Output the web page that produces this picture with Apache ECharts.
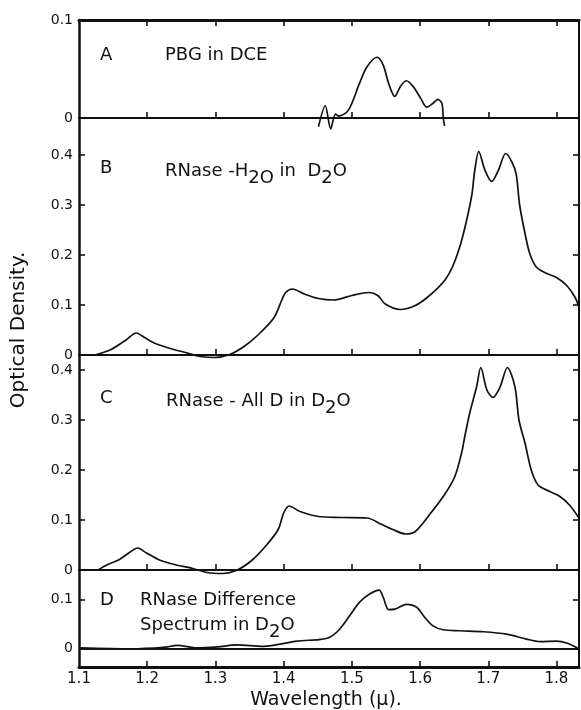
<!DOCTYPE html>
<html>
<head>
<meta charset="utf-8">
<script src="https://cdn.jsdelivr.net/npm/echarts@6/dist/echarts.min.js"></script>
<style>
html,body{margin:0;padding:0;background:#fff;}
#chart{width:581px;height:710px;}
</style>
</head>
<body>
<div id="chart"></div>
<script>
// ---- data ----
var xTicks = [1.2, 1.3, 1.4, 1.5, 1.6, 1.7, 1.8];
var xLabels = [1.1, 1.2, 1.3, 1.4, 1.5, 1.6, 1.7, 1.8];

var aTicks = [0, 0.1];
var bTicks = [0, 0.1, 0.2, 0.3, 0.4];
var cTicks = [0, 0.1, 0.2, 0.3, 0.4];
var dTicks = [0, 0.1];

// A: PBG in DCE
var aWl = [1.451, 1.461, 1.469, 1.476, 1.481, 1.495, 1.511, 1.522, 1.537, 1.546, 1.554, 1.563, 1.571, 1.580, 1.590, 1.601, 1.610, 1.619, 1.626, 1.632, 1.634, 1.636];
var aOD = [-0.009, 0.0125, -0.011, 0.004, 0.002, 0.008, 0.035, 0.052, 0.062, 0.054, 0.035, 0.022, 0.032, 0.038, 0.032, 0.020, 0.011, 0.015, 0.019, 0.015, 0, -0.008];

// B: RNase-H2O in D2O
var bWl = [1.123, 1.147, 1.169, 1.184, 1.196, 1.212, 1.234, 1.256, 1.278, 1.299, 1.321, 1.343, 1.364, 1.386, 1.397, 1.403, 1.413, 1.430, 1.451, 1.473, 1.500, 1.525, 1.538, 1.549, 1.571, 1.593, 1.614, 1.636, 1.648, 1.659, 1.668, 1.676, 1.680, 1.686, 1.695, 1.705, 1.715, 1.7255, 1.735, 1.741, 1.746, 1.754, 1.761, 1.771, 1.786, 1.800, 1.815, 1.827, 1.833];
var bOD = [0, 0.011, 0.030, 0.044, 0.035, 0.023, 0.013, 0.005, -0.003, -0.005, 0.001, 0.018, 0.042, 0.075, 0.109, 0.125, 0.132, 0.122, 0.113, 0.110, 0.119, 0.125, 0.119, 0.102, 0.091, 0.099, 0.119, 0.149, 0.178, 0.220, 0.268, 0.321, 0.367, 0.407, 0.370, 0.347, 0.370, 0.403, 0.385, 0.361, 0.300, 0.242, 0.202, 0.175, 0.163, 0.155, 0.139, 0.116, 0.096];

// C: RNase - All D in D2O
var cWl = [1.128, 1.142, 1.158, 1.174, 1.186, 1.199, 1.218, 1.240, 1.267, 1.288, 1.310, 1.332, 1.354, 1.375, 1.392, 1.400, 1.408, 1.424, 1.451, 1.484, 1.522, 1.544, 1.560, 1.579, 1.593, 1.614, 1.636, 1.651, 1.661, 1.666, 1.673, 1.683, 1.689, 1.698, 1.707, 1.717, 1.728, 1.739, 1.745, 1.754, 1.763, 1.773, 1.790, 1.805, 1.819, 1.833];
var cOD = [0, 0.011, 0.020, 0.035, 0.044, 0.034, 0.020, 0.011, 0.003, -0.005, -0.007, 0, 0.020, 0.050, 0.081, 0.114, 0.128, 0.117, 0.107, 0.105, 0.104, 0.091, 0.081, 0.072, 0.077, 0.111, 0.151, 0.187, 0.235, 0.270, 0.315, 0.367, 0.405, 0.360, 0.345, 0.365, 0.405, 0.367, 0.300, 0.253, 0.200, 0.170, 0.157, 0.147, 0.130, 0.104];

// D: RNase difference spectrum in D2O
var dWl = [1.102, 1.176, 1.224, 1.244, 1.273, 1.303, 1.332, 1.370, 1.420, 1.452, 1.467, 1.482, 1.497, 1.511, 1.526, 1.540, 1.546, 1.554, 1.563, 1.580, 1.595, 1.607, 1.619, 1.634, 1.658, 1.693, 1.727, 1.756, 1.776, 1.800, 1.815, 1.832];
var dOD = [0.001, -0.001, 0.002, 0.006, 0.001, 0.003, 0.007, 0.004, 0.015, 0.018, 0.022, 0.039, 0.067, 0.094, 0.111, 0.119, 0.104, 0.079, 0.080, 0.090, 0.084, 0.063, 0.046, 0.038, 0.036, 0.034, 0.029, 0.019, 0.014, 0.015, 0.011, 0];

function pairs(xs, ys) { return xs.map(function (x, i) { return [x, ys[i]]; }); }

var FONT = '"DejaVu Sans", sans-serif';
var INK = '#111';

var grids = [
  { left: 79, top: 20, width: 500, height: 98 },
  { left: 79, top: 118, width: 500, height: 237 },
  { left: 79, top: 355, width: 500, height: 215 },
  { left: 79, top: 570, width: 500, height: 97 }
];
var yRanges = [[0, 0.1], [0, 0.474], [0, 0.43], [-0.038, 0.16]];
var yTickSets = [aTicks, bTicks, cTicks, dTicks];

function fmtY(v) { return Math.abs(v) < 1e-9 ? '0' : v.toFixed(1); }

var xAxes = grids.map(function (g, i) {
  return {
    type: 'value', gridIndex: i, min: 1.1, max: 1.833, position: 'bottom',
    axisLine: { show: true, onZero: false, lineStyle: { color: INK, width: i === 3 ? 3 : 2 } },
    axisTick: { show: true, inside: true, length: 6, customValues: xTicks, lineStyle: { color: INK, width: 1.6 } },
    axisLabel: { show: i === 3, customValues: xLabels, margin: 5, color: INK, fontSize: 15, fontFamily: FONT,
      formatter: function (v) { return v.toFixed(1); } },
    splitLine: { show: false }
  };
});
xAxes.push({
  type: 'value', gridIndex: 0, min: 1.1, max: 1.833, position: 'top',
  axisLine: { show: true, onZero: false, lineStyle: { color: INK, width: 3 } },
  axisTick: { show: true, inside: true, length: 6, customValues: xTicks, lineStyle: { color: INK, width: 1.6 } },
  axisLabel: { show: false }, splitLine: { show: false }
});

var yAxes = [];
grids.forEach(function (g, i) {
  var ticks = yTickSets[i].filter(function (v) { return v !== 0 && !(i === 0); });
  yAxes.push({
    type: 'value', gridIndex: i, position: 'left', min: yRanges[i][0], max: yRanges[i][1],
    axisLine: { show: true, onZero: false, lineStyle: { color: INK, width: 2.5 } },
    axisTick: { show: ticks.length > 0, inside: true, length: 6, customValues: ticks.length ? ticks : [0], lineStyle: { color: INK, width: 1.6 } },
    axisLabel: { show: true, customValues: yTickSets[i], margin: 6, color: INK, fontSize: 14, fontFamily: FONT, formatter: fmtY },
    splitLine: { show: false }
  });
});
grids.forEach(function (g, i) {
  var ticks = yTickSets[i].filter(function (v) { return v !== 0 && !(i === 0); });
  yAxes.push({
    type: 'value', gridIndex: i, position: 'right', min: yRanges[i][0], max: yRanges[i][1],
    axisLine: { show: true, onZero: false, lineStyle: { color: INK, width: 2 } },
    axisTick: { show: ticks.length > 0, inside: true, length: 6, customValues: ticks.length ? ticks : [0], lineStyle: { color: INK, width: 1.6 } },
    axisLabel: { show: false },
    splitLine: { show: false }
  });
});

function lineSeries(name, xs, ys, idx, extra) {
  var s = {
    name: name, type: 'line', xAxisIndex: idx, yAxisIndex: idx,
    data: pairs(xs, ys), showSymbol: false, smooth: 0.3, clip: false,
    lineStyle: { color: INK, width: 1.7 }, silent: true
  };
  if (extra) for (var k in extra) s[k] = extra[k];
  return s;
}

var labelFont = '18px ' + FONT;
function txt(x, y, text, rich) {
  var st = { text: text, font: labelFont, fill: INK, verticalAlign: 'middle', align: 'left' };
  if (rich) st.rich = rich;
  return { type: 'text', x: x, y: y, style: st, silent: true };
}
var subRich = {
  n: { font: labelFont, fill: INK, lineHeight: 20, verticalAlign: 'top' },
  s: { font: labelFont, fill: INK, lineHeight: 20, padding: [7, 0, 0, 0], verticalAlign: 'top' }
};

var option = {
  animation: false,
  backgroundColor: '#fff',
  grid: grids,
  xAxis: xAxes,
  yAxis: yAxes,
  series: [
    lineSeries('A', aWl, aOD, 0),
    lineSeries('B', bWl, bOD, 1),
    lineSeries('C', cWl, cOD, 2),
    lineSeries('D', dWl, dOD, 3, {
      markLine: {
        silent: true, symbol: ['none', 'none'], label: { show: false },
        lineStyle: { color: INK, width: 2, type: 'solid' },
        data: [{ yAxis: 0 }]
      }
    })
  ],
  graphic: [
    txt(100, 55, 'A'),
    txt(165, 55, 'PBG in DCE'),
    txt(100, 168, 'B'),
    txt(165, 172, '{n|RNase -H}{s|2O}{n| in  D}{s|2}{n|O}', subRich),
    txt(100, 398, 'C'),
    txt(166, 402, '{n|RNase - All D in D}{s|2}{n|O}', subRich),
    txt(100, 600, 'D'),
    txt(140, 600, 'RNase Difference'),
    txt(140, 626, '{n|Spectrum in D}{s|2}{n|O}', subRich),
    { type: 'text', x: 19, y: 330, rotation: Math.PI / 2, silent: true,
      style: { text: 'Optical Density.', font: '20px ' + FONT, fill: INK, align: 'center', verticalAlign: 'middle' } },
    { type: 'text', x: 326, y: 700, silent: true,
      style: { text: 'Wavelength (μ).', font: '19px ' + FONT, fill: INK, align: 'center', verticalAlign: 'middle' } }
  ]
};

var chart = echarts.init(document.getElementById('chart'), null, { renderer: 'canvas' });
chart.setOption(option);
</script>
</body>
</html>
